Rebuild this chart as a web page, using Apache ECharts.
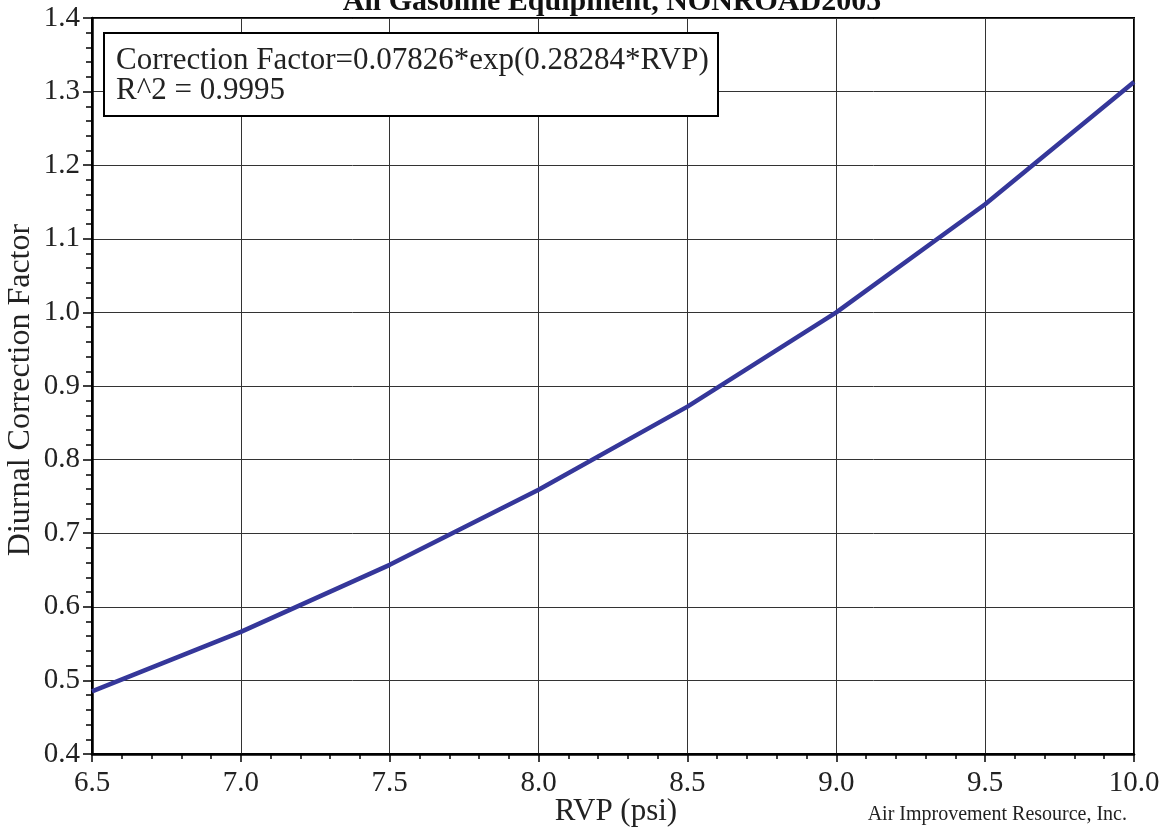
<!DOCTYPE html>
<html>
<head>
<meta charset="utf-8">
<script src="https://cdn.jsdelivr.net/npm/echarts@6/dist/echarts.min.js"></script>
<style>
  html, body { margin: 0; padding: 0; background: #fff; }
  #chart { width: 1165px; height: 831px; }
</style>
</head>
<body>
<div id="chart"></div>
<script>
// data
const rvp = [6.5, 7.0, 7.5, 8.0, 8.5, 9.0, 9.5, 10.0];
const correctionFactor = [0.485, 0.566, 0.657, 0.759, 0.872, 1.0, 1.147, 1.313];

const titleText = 'All Gasoline Equipment, NONROAD2005';
const fitLines = ['Correction Factor=0.07826*exp(0.28284*RVP)', 'R^2 = 0.9995'];
const xName = 'RVP (psi)';
const yName = 'Diurnal Correction Factor';
const credit = 'Air Improvement Resource, Inc.';

const serif = '"Liberation Serif", "DejaVu Serif", serif';

const chart = echarts.init(document.getElementById('chart'));

chart.setOption({
    animation: false,
    textStyle: { fontFamily: serif },
    grid: {
        left: 92, right: 31, top: 18, bottom: 77,
        show: true, borderColor: '#000', borderWidth: 2
    },
    xAxis: {
        type: 'value',
        min: 6.5, max: 10, interval: 0.5,
        axisLine: { lineStyle: { color: '#000', width: 2.5 } },
        axisTick: { length: 8, lineStyle: { color: '#000', width: 1.5 } },
        minorTick: { show: true, splitNumber: 5, length: 5, lineStyle: { color: '#000', width: 1.5 } },
        axisLabel: {
            color: '#222', fontSize: 29, fontFamily: serif, margin: 15, lineHeight: 29,
            formatter: v => v.toFixed(1)
        },
        splitLine: { show: true, lineStyle: { color: '#333', width: 1 } }
    },
    yAxis: {
        type: 'value',
        min: 0.4, max: 1.4, interval: 0.1,
        axisLine: { show: true, lineStyle: { color: '#000', width: 2.5 } },
        axisTick: { show: true, length: 9, lineStyle: { color: '#000', width: 1.5 } },
        minorTick: { show: true, splitNumber: 5, length: 6, lineStyle: { color: '#000', width: 1.5 } },
        axisLabel: {
            color: '#222', fontSize: 29, fontFamily: serif, margin: 12,
            formatter: v => v.toFixed(1)
        },
        splitLine: { show: true, lineStyle: { color: '#333', width: 1 } }
    },
    series: [{
        type: 'line',
        data: rvp.map((x, i) => [x, correctionFactor[i]]),
        showSymbol: false,
        lineStyle: { color: '#35379a', width: 4.5 },
        z: 5
    }],
    graphic: [
        {
            type: 'text', x: 612, y: 2, z: 20,
            style: { text: titleText, font: 'bold 30px ' + serif, fill: '#111', align: 'center', verticalAlign: 'middle' }
        },
        {
            type: 'rect', z: 20,
            shape: { x: 104, y: 33, width: 614, height: 83 },
            style: { fill: '#fff', stroke: '#000', lineWidth: 2 }
        },
        {
            type: 'text', x: 116, y: 46, z: 21,
            style: { text: fitLines.join('\n'), font: '31px ' + serif, lineHeight: 30, fill: '#222', align: 'left', verticalAlign: 'top' }
        },
        {
            type: 'text', x: 616, y: 812, z: 20,
            style: { text: xName, font: '31px ' + serif, fill: '#222', align: 'center', verticalAlign: 'middle' }
        },
        {
            type: 'text', x: 21, y: 390, rotation: Math.PI / 2, z: 20,
            style: { text: yName, font: '32px ' + serif, fill: '#222', align: 'center', verticalAlign: 'middle' }
        },
        {
            type: 'text', x: 1127, y: 815, z: 20,
            style: { text: credit, font: '20px ' + serif, fill: '#222', align: 'right', verticalAlign: 'middle' }
        }
    ]
});
</script>
</body>
</html>
